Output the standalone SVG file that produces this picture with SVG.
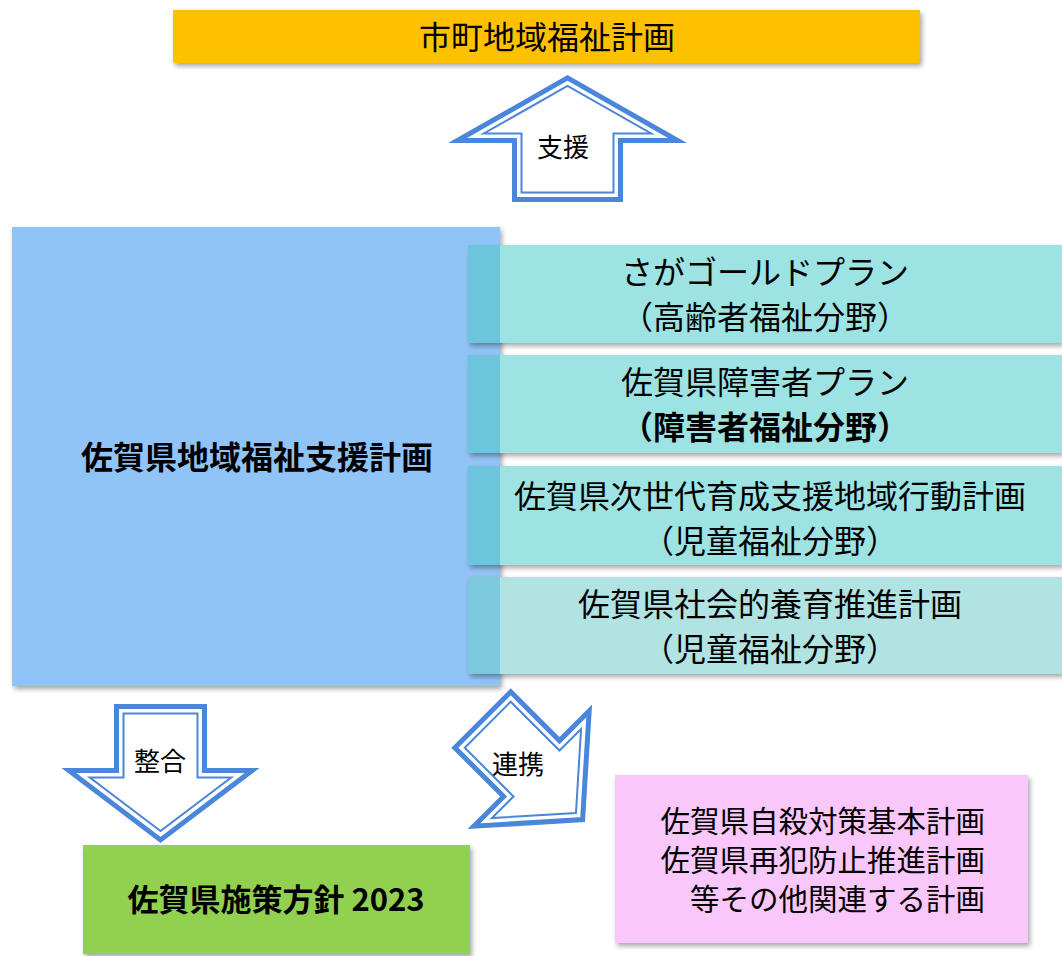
<svg xmlns="http://www.w3.org/2000/svg" width="1062" height="956" viewBox="0 0 1062 956">
<style>
text{font-family:"Noto Sans CJK JP","Noto Sans",sans-serif;fill:#000;text-anchor:middle}
.t31{font-size:32px}
.b{font-weight:700}
.lbl{font-size:26px}
.aout{fill:#fff;stroke:#4A86DA;stroke-width:5;stroke-linejoin:miter}
.ain{fill:none;stroke:#4A86DA;stroke-width:2;stroke-linejoin:miter}
.teal{fill:#9DE3E4}
</style>
<defs>
<filter id="sh" x="-5%" y="-20%" width="110%" height="140%">
<feDropShadow dx="2" dy="3" stdDeviation="2.5" flood-color="#000" flood-opacity="0.35"/>
</filter>
</defs>

<g id="node-shicho">
<rect x="173" y="10" width="747" height="53" fill="#FFC000" filter="url(#sh)"/>
<text class="t31" x="547" y="49">市町地域福祉計画</text>
</g>

<g id="node-main">
<rect x="12" y="227" width="488" height="459" fill="#91C4F6" filter="url(#sh)"/>
<text class="t31 b" x="257" y="469">佐賀県地域福祉支援計画</text>
</g>

<g id="node-gold">
<rect class="teal" x="468" y="245" width="594" height="98" filter="url(#sh)"/>
<rect x="468" y="245" width="32" height="98" fill="#6CC4DD"/>
<text class="t31" x="765" y="284">さがゴールドプラン</text>
<text class="t31" x="765" y="329">（高齢者福祉分野）</text>
</g>

<g id="node-shogai">
<rect class="teal" x="468" y="355" width="594" height="98" filter="url(#sh)"/>
<rect x="468" y="355" width="32" height="98" fill="#6CC4DD"/>
<text class="t31" x="765" y="394">佐賀県障害者プラン</text>
<text class="t31 b" x="765" y="439">（障害者福祉分野）</text>
</g>

<g id="node-jisedai">
<rect class="teal" x="468" y="466" width="594" height="99" filter="url(#sh)"/>
<rect x="468" y="466" width="32" height="99" fill="#6CC4DD"/>
<text class="t31" x="770" y="508">佐賀県次世代育成支援地域行動計画</text>
<text class="t31" x="770" y="553">（児童福祉分野）</text>
</g>

<g id="node-shakai">
<rect x="468" y="577" width="594" height="97" fill="#B1E3E3" filter="url(#sh)"/>
<rect x="468" y="577" width="32" height="97" fill="#7CC8DC"/>
<text class="t31" x="770" y="616">佐賀県社会的養育推進計画</text>
<text class="t31" x="770" y="661">（児童福祉分野）</text>
</g>

<g id="node-shisaku">
<rect x="83" y="845" width="387" height="109" fill="#92D050" filter="url(#sh)"/>
<text class="b" x="276" y="911" style="font-size:31px">佐賀県施策方針 2023</text>
</g>

<g id="node-kanren">
<rect x="615" y="775" width="413" height="168" fill="#FAC7FA" filter="url(#sh)"/>
<text x="985" y="832" style="font-size:29.5px;text-anchor:end">佐賀県自殺対策基本計画</text>
<text x="985" y="871" style="font-size:29.5px;text-anchor:end">佐賀県再犯防止推進計画</text>
<text x="985" y="910" style="font-size:29.5px;text-anchor:end">等その他関連する計画</text>
</g>

<g id="connectors">
<g id="arrow-shien">
<g transform="translate(567.5,202) scale(1,-1)">
<polygon class="aout" points="-53,2.5 53,2.5 53,61.5 110,61.5 0,124.1 -110,61.5 -53,61.5"/>
<polygon class="ain" points="-46,9.5 46,9.5 46,68.5 83.7,68.5 0,116.1 -83.7,68.5 -46,68.5"/>
</g>
<text class="lbl" x="563" y="157">支援</text>
</g>
<g id="arrow-seigo">
<g transform="translate(160.5,704)">
<polygon class="aout" points="-44,2.5 44,2.5 44,66.5 91.6,66.5 0,135.9 -91.6,66.5 -44,66.5"/>
<polygon class="ain" points="-37,9.5 37,9.5 37,73.5 70.7,73.5 0,127.1 -70.7,73.5 -37,73.5"/>
</g>
<text class="lbl" x="160" y="771">整合</text>
</g>
<g id="arrow-renkei">
<g transform="translate(481,718) rotate(-45)">
<polygon class="aout" points="-39.5,2.5 39.5,2.5 39.5,71.5 81.5,71.5 0,143.7 -81.5,71.5 -39.5,71.5"/>
<polygon class="ain" points="-32.5,9.5 32.5,9.5 32.5,78.5 63,78.5 0,134.3 -63,78.5 -32.5,78.5"/>
</g>
<text class="lbl" x="518" y="774">連携</text>
</g>
</g>
</svg>
